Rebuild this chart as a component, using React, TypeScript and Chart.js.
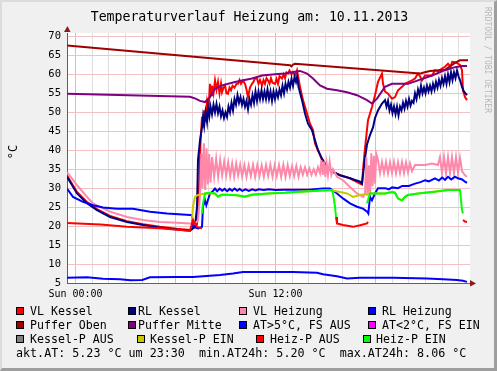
import React, { useEffect, useRef } from 'react';
import { Chart, registerables } from 'chart.js';

Chart.register(...registerables);

const FONT = '"DejaVu Sans Mono", "Liberation Mono", monospace';

// ---- axis / tick data ----
const X_RANGE = [-0.51, 23.67]; // hours relative to Sun 00:00
const Y_RANGE = [5, 70.9];
const Y_TICKS = [5, 10, 15, 20, 25, 30, 35, 40, 45, 50, 55, 60, 65, 70];
const X_TICKS = [0, 1, 2, 3, 4, 5, 6, 7, 8, 9, 10, 11, 12, 13, 14, 15, 16, 17, 18, 19, 20, 21, 22, 23];
const X_MAJOR = [0, 6, 12, 18];
const X_LABEL_HOURS = [0, 12];
const X_LABELS = ['Sun 00:00', 'Sun 12:00'];

// ---- series (time in hours, value in °C) ----
const vlKesselT = [-0.51, 0.09, 0.69, 1.29, 2.07, 3.09, 4.05, 5.07, 6.09, 6.87, 7.05, 7.29, 7.41, 7.5, 7.59, 7.65, 7.72, 7.8, 7.89, 7.97, 8.07, 8.13, 8.19, 8.28, 8.37, 8.46, 8.55, 8.64, 8.73, 8.79, 8.88, 8.97, 9.06, 9.15, 9.24, 9.33, 9.42, 9.54, 9.66, 9.75, 9.84, 9.93, 10.05, 10.17, 10.26, 10.35, 10.47, 10.59, 10.68, 10.77, 10.89, 10.98, 11.07, 11.19, 11.28, 11.37, 11.46, 11.55, 11.64, 11.73, 11.82, 11.97, 12.06, 12.15, 12.24, 12.39, 12.48, 12.57, 12.66, 12.75, 12.84, 12.96, 13.05, 13.17, 13.29, 13.47, 13.65, 13.89, 14.07, 14.25, 14.37, 14.55, 14.79, 15.09, 15.45, 15.87, 16.47, 17.07, 17.19, 17.25, 17.37, 17.55, 17.79, 17.97, 18.15, 18.39, 18.45, 18.57, 18.75, 18.99, 19.17, 19.35, 19.59, 19.77, 20.19, 20.37, 20.55, 20.67, 20.79, 20.97, 21.39, 21.57, 21.75, 21.99, 22.17, 22.35, 22.5, 22.6, 22.77, 22.95, 23.07, 23.19, 23.25, 23.37, 23.49];
const vlKesselV = [33.3, 29.0, 26.3, 24.5, 22.7, 21.3, 20.5, 19.8, 19.3, 19.0, 19.5, 20.5, 30.0, 42.0, 48.8, 46.0, 50.5, 47.5, 52.5, 50.0, 57.5, 54.5, 57.0, 55.0, 58.4, 56.0, 58.0, 55.0, 57.5, 55.3, 56.5, 57.1, 55.0, 54.9, 56.5, 55.8, 57.0, 56.5, 57.5, 57.5, 58.5, 57.5, 58.4, 57.5, 56.0, 54.0, 56.5, 57.5, 58.0, 59.0, 58.9, 57.5, 58.5, 57.1, 58.5, 57.5, 59.0, 58.4, 57.5, 59.0, 57.8, 57.5, 58.8, 57.5, 59.5, 58.9, 60.0, 59.0, 60.5, 60.2, 61.0, 60.0, 60.6, 59.7, 61.1, 56.7, 53.2, 49.7, 47.0, 45.3, 41.8, 40.0, 37.4, 35.6, 34.3, 33.4, 32.6, 31.2, 31.0, 34.7, 40.5, 47.9, 51.4, 54.5, 58.0, 60.2, 57.5, 55.5, 54.9, 53.6, 54.0, 55.8, 56.7, 57.5, 58.4, 58.9, 60.2, 59.5, 58.4, 59.7, 59.7, 61.1, 60.8, 61.5, 62.0, 62.8, 62.0, 63.3, 63.2, 62.8, 62.5, 61.1, 55.8, 54.0, 53.2];

const rlKesselT = [-0.51, 0.09, 0.69, 1.29, 2.07, 3.09, 4.05, 5.07, 6.09, 6.87, 7.05, 7.17, 7.29, 7.35, 7.47, 7.59, 7.65, 7.72, 7.8, 7.89, 7.95, 8.03, 8.1, 8.19, 8.28, 8.37, 8.46, 8.55, 8.64, 8.73, 8.82, 8.91, 9.0, 9.09, 9.18, 9.27, 9.36, 9.45, 9.54, 9.63, 9.72, 9.81, 9.9, 9.99, 10.08, 10.17, 10.26, 10.35, 10.44, 10.53, 10.62, 10.71, 10.8, 10.89, 10.98, 11.07, 11.16, 11.25, 11.34, 11.43, 11.52, 11.61, 11.7, 11.79, 11.88, 11.97, 12.06, 12.15, 12.24, 12.33, 12.42, 12.51, 12.6, 12.69, 12.78, 12.87, 12.96, 13.05, 13.14, 13.23, 13.3, 13.38, 13.59, 13.77, 13.95, 14.19, 14.37, 14.55, 14.79, 15.09, 15.45, 15.87, 16.47, 17.07, 17.19, 17.37, 17.49, 17.67, 17.85, 17.97, 18.15, 18.39, 18.57, 18.66, 18.75, 18.84, 18.93, 19.02, 19.11, 19.2, 19.29, 19.38, 19.47, 19.56, 19.65, 19.74, 19.83, 19.92, 20.01, 20.1, 20.19, 20.28, 20.37, 20.46, 20.55, 20.64, 20.73, 20.82, 20.91, 21.0, 21.09, 21.18, 21.27, 21.36, 21.45, 21.54, 21.63, 21.72, 21.81, 21.9, 21.99, 22.08, 22.17, 22.26, 22.35, 22.44, 22.53, 22.62, 22.71, 22.8, 22.89, 22.98, 23.07, 23.19, 23.3, 23.49];
const rlKesselV = [33.0, 28.6, 26.0, 24.2, 22.4, 21.1, 20.3, 19.6, 19.1, 18.8, 19.4, 19.8, 25.0, 37.4, 42.6, 46.1, 48.8, 46.5, 50.0, 47.5, 51.4, 49.0, 51.5, 49.5, 52.0, 50.0, 52.2, 49.8, 51.5, 49.0, 50.5, 48.5, 50.0, 48.8, 51.5, 50.0, 52.5, 50.5, 53.5, 52.0, 54.5, 52.5, 54.0, 52.0, 53.5, 51.5, 53.0, 50.8, 53.5, 52.0, 54.5, 52.5, 55.5, 53.0, 55.5, 53.5, 55.8, 53.5, 55.5, 53.5, 56.0, 53.5, 55.5, 53.0, 55.5, 53.5, 55.5, 54.0, 56.0, 54.5, 57.0, 55.0, 57.5, 56.0, 58.0, 56.5, 58.8, 57.0, 59.3, 58.0, 59.5, 56.7, 53.2, 49.7, 47.0, 45.3, 42.6, 40.0, 37.8, 35.6, 34.3, 33.4, 32.6, 31.7, 31.2, 38.0, 41.5, 44.0, 46.0, 48.5, 50.5, 52.3, 53.2, 51.5, 53.0, 50.5, 52.0, 49.8, 51.5, 49.5, 51.5, 49.2, 51.5, 50.5, 52.5, 51.0, 53.0, 51.5, 53.5, 51.8, 53.0, 52.5, 55.0, 53.5, 56.0, 54.5, 57.0, 55.0, 56.5, 55.0, 57.0, 55.5, 57.0, 55.5, 57.5, 56.0, 58.0, 56.5, 58.5, 57.0, 59.0, 57.5, 59.5, 57.5, 60.0, 58.0, 60.5, 58.5, 60.5, 59.0, 61.0, 59.5, 58.5, 56.7, 55.5, 54.5];

const vlHeizungT = [-0.51, 0.09, 0.69, 1.05, 2.07, 3.09, 4.05, 5.07, 6.09, 6.87, 7.17, 7.35, 7.47, 7.55, 7.62, 7.7, 7.78, 7.86, 7.94, 8.02, 8.1, 8.2, 8.32, 8.44, 8.56, 8.68, 8.8, 8.92, 9.04, 9.16, 9.28, 9.4, 9.52, 9.64, 9.76, 9.88, 10.0, 10.13, 10.26, 10.39, 10.52, 10.65, 10.78, 10.91, 11.04, 11.17, 11.3, 11.43, 11.56, 11.69, 11.82, 11.95, 12.08, 12.21, 12.34, 12.47, 12.6, 12.73, 12.86, 12.99, 13.12, 13.25, 13.38, 13.51, 13.64, 13.77, 13.9, 14.03, 14.16, 14.29, 14.42, 14.55, 14.67, 14.75, 14.83, 14.91, 14.99, 15.07, 15.15, 15.25, 15.35, 15.45, 15.69, 16.05, 16.47, 16.89, 17.25, 17.37, 17.45, 17.52, 17.6, 17.67, 17.75, 17.82, 17.9, 17.97, 18.05, 18.15, 18.27, 18.39, 18.51, 18.63, 18.75, 18.87, 18.99, 19.11, 19.23, 19.35, 19.47, 19.59, 19.71, 19.83, 19.95, 20.07, 20.19, 20.37, 20.97, 21.39, 21.75, 21.87, 21.99, 22.11, 22.23, 22.35, 22.47, 22.59, 22.71, 22.83, 22.95, 23.07, 23.19, 23.37, 23.49];
const vlHeizungV = [34.2, 30.8, 27.7, 26.0, 23.8, 22.4, 21.6, 21.1, 20.9, 20.7, 20.7, 21.5, 28.0, 39.2, 30.0, 41.8, 29.5, 40.5, 31.0, 39.0, 31.5, 38.2, 33.0, 37.8, 33.0, 37.4, 33.4, 37.0, 33.4, 36.8, 33.2, 36.5, 33.0, 36.5, 33.4, 36.2, 33.0, 36.1, 33.0, 36.0, 33.2, 36.2, 33.0, 36.1, 33.2, 36.0, 33.0, 36.1, 33.2, 36.2, 33.0, 36.0, 33.2, 36.1, 33.0, 36.2, 33.0, 36.1, 33.2, 35.8, 33.2, 35.8, 33.0, 35.5, 33.5, 35.5, 33.5, 35.2, 33.5, 35.0, 33.5, 35.5, 34.0, 37.4, 33.5, 37.0, 33.0, 36.5, 33.5, 37.0, 33.5, 35.0, 33.0, 32.1, 30.3, 28.6, 27.7, 28.5, 38.2, 28.0, 36.0, 27.5, 39.2, 30.5, 38.5, 31.2, 39.0, 37.4, 34.0, 36.9, 34.0, 36.9, 33.9, 36.8, 34.0, 36.9, 33.9, 36.8, 34.0, 36.9, 34.0, 36.8, 34.2, 36.5, 34.5, 36.1, 36.1, 36.5, 36.1, 38.2, 34.0, 38.2, 33.9, 38.2, 34.0, 38.2, 33.9, 38.2, 34.0, 38.0, 34.5, 33.4, 33.0];

const rlHeizungT = [-0.51, -0.15, 0.45, 1.05, 1.65, 2.49, 3.45, 4.47, 5.49, 6.87, 6.99, 7.05, 7.35, 7.59, 7.65, 7.77, 7.85, 8.07, 8.19, 8.37, 8.5, 8.65, 8.8, 8.95, 9.1, 9.25, 9.4, 9.55, 9.7, 9.85, 10.0, 10.2, 10.4, 10.6, 10.8, 11.0, 11.3, 11.6, 12.0, 12.5, 13.0, 13.5, 14.0, 14.5, 14.85, 15.27, 15.69, 16.05, 16.47, 16.89, 17.25, 17.5, 17.57, 17.67, 17.79, 17.97, 18.15, 18.57, 18.8, 19.0, 19.35, 19.6, 20.0, 20.37, 20.7, 20.97, 21.2, 21.57, 21.8, 22.0, 22.17, 22.35, 22.55, 22.77, 22.95, 23.2, 23.37, 23.49];
const rlHeizungV = [29.9, 27.7, 26.4, 25.5, 24.9, 24.6, 24.6, 23.8, 23.3, 22.9, 22.9, 19.8, 19.4, 19.8, 25.1, 26.8, 25.5, 28.6, 29.0, 29.9, 29.2, 29.9, 29.3, 29.8, 29.2, 29.8, 29.3, 29.9, 29.3, 29.8, 29.3, 29.7, 29.3, 29.7, 29.4, 29.7, 29.5, 29.7, 29.5, 29.6, 29.6, 29.6, 29.6, 29.8, 29.9, 29.9, 28.6, 27.3, 26.0, 25.1, 24.6, 23.8, 23.3, 27.7, 26.8, 28.6, 30.0, 30.0, 29.7, 30.2, 30.0, 30.6, 30.6, 31.2, 31.6, 32.1, 31.8, 32.6, 32.0, 32.8, 32.2, 33.0, 32.3, 33.0, 32.6, 32.3, 31.7, 31.4];

const pufferObenT = [-0.51, 12.87, 12.95, 13.05, 13.17, 20.67, 20.9, 21.27, 22.17, 22.77, 23.07, 23.55];
const pufferObenV = [67.6, 62.4, 62.1, 62.6, 62.8, 60.2, 60.5, 60.9, 61.2, 63.0, 63.7, 63.7];

const pufferMitteT = [-0.51, 6.87, 7.2, 7.47, 7.77, 8.07, 8.37, 8.79, 9.57, 9.99, 10.59, 11.19, 11.97, 12.57, 12.87, 13.47, 13.89, 14.25, 14.67, 15.09, 15.69, 16.29, 16.89, 17.49, 17.79, 18.09, 18.57, 18.99, 19.35, 19.95, 20.55, 21.39, 22.17, 22.77, 23.19, 23.49];
const pufferMitteV = [54.9, 54.1, 53.6, 53.0, 52.7, 54.0, 56.2, 57.1, 58.0, 58.4, 58.9, 59.7, 60.0, 60.2, 60.5, 60.9, 60.2, 58.9, 57.1, 56.2, 55.8, 55.3, 54.5, 53.2, 52.3, 53.6, 56.7, 57.5, 57.5, 57.5, 58.4, 59.7, 61.1, 61.9, 62.2, 62.2];

const atWarmT = [-0.51, 0.69, 1.65, 2.67, 3.3, 4.0, 4.47, 6.09, 7.05, 8.67, 9.45, 10.05, 11.07, 12.09, 13.05, 14.49, 14.85, 15.69, 16.29, 17.07, 19.05, 21.09, 22.05, 22.89, 23.25, 23.49];
const atWarmV = [6.4, 6.5, 6.1, 6.0, 5.7, 5.8, 6.5, 6.6, 6.6, 7.1, 7.5, 7.9, 7.9, 7.9, 7.9, 7.7, 7.3, 6.8, 6.2, 6.4, 6.4, 6.2, 6.0, 5.8, 5.6, 5.3];

const atColdT: number[] = [];
const atColdV: number[] = [];

const kesselPAusT: number[] = [];
const kesselPAusV: number[] = [];

const kesselPEinT = [6.99, 7.05, 7.17, 7.35, 7.77, 8.37, 8.55, 8.8, 9.57, 10.17, 10.6, 11.55, 12.57, 13.17, 14.0, 15.27, 15.87, 16.29, 16.65, 17.07, 17.67, 18.57, 18.99, 19.17, 19.35, 19.59, 19.77, 19.95, 20.55, 21.39, 22.35, 23.07];
const kesselPEinV = [21.6, 25.1, 27.7, 28.2, 28.6, 28.6, 27.7, 28.2, 28.2, 27.7, 28.2, 28.6, 28.8, 29.0, 29.2, 29.5, 29.0, 28.6, 27.7, 28.2, 28.6, 28.6, 29.0, 28.8, 27.3, 26.8, 27.7, 28.2, 28.6, 29.0, 29.5, 29.5];

const heizPAusT = [-0.51, 1.5, 3.09, 5.07, 6.45, 6.87, 7.05, 7.29, 7.59, 7.62, 15.63, 15.69, 16.05, 16.65, 17.07, 17.49, 17.55, 17.6, 23.25, 23.37, 23.49];
const heizPAusV = [20.8, 20.4, 19.8, 19.4, 18.9, 18.8, 21.6, 19.8, 19.4, null, 22.4, 20.7, 20.3, 19.8, 20.2, 20.7, 21.1, null, 21.6, 21.2, 21.1];

const heizPEinT = [7.59, 7.65, 7.77, 8.07, 8.37, 8.55, 8.8, 9.57, 10.17, 10.6, 11.55, 12.57, 13.17, 14.0, 15.39, 15.45, 15.57, 15.63, 16.5, 17.49, 17.67, 18.57, 18.99, 19.17, 19.35, 19.59, 19.77, 19.95, 20.55, 21.39, 22.35, 23.07, 23.19, 23.25];
const heizPEinV = [23.3, 26.0, 28.6, 28.8, 28.6, 27.8, 28.3, 28.2, 27.8, 28.3, 28.6, 28.8, 29.0, 29.2, 29.5, 28.6, 25.1, 22.4, null, 26.0, 28.6, 28.6, 29.0, 28.8, 27.3, 26.8, 27.7, 28.2, 28.6, 29.0, 29.5, 29.5, 24.2, 23.3];

// legend order (rrdtool draw order: later on top)
const SERIES_NAMES = ['VL Kessel', 'RL Kessel', 'VL Heizung', 'RL Heizung', 'Puffer Oben', 'Puffer Mitte', 'AT>5°C, FS AUS', 'AT<2°C, FS EIN', 'Kessel-P AUS', 'Kessel-P EIN', 'Heiz-P AUS', 'Heiz-P EIN'];
const SERIES_COLORS = ['#ff0000', '#000080', '#ff88aa', '#0000ff', '#a00000', '#800080', '#0000ff', '#ff00ff', '#808080', '#c8c800', '#ff0000', '#00ff00'];
const SERIES_T = [vlKesselT, rlKesselT, vlHeizungT, rlHeizungT, pufferObenT, pufferMitteT, atWarmT, atColdT, kesselPAusT, kesselPEinT, heizPAusT, heizPEinT];
const SERIES_V: (number | null)[][] = [vlKesselV, rlKesselV, vlHeizungV, rlHeizungV, pufferObenV, pufferMitteV, atWarmV, atColdV, kesselPAusV, kesselPEinV, heizPAusV, heizPEinV];

// legend layout (box left, text left, row)
const LEGEND_POS = [
  [16, 30, 0], [128, 138, 0], [239, 253, 0], [368, 382, 0],
  [16, 30, 1], [128, 138, 1], [239, 253, 1], [368, 382, 1],
  [16, 30, 2], [137, 150, 2], [256, 270, 2], [363, 376, 2],
];
const ROW_Y = [311, 325, 339];

const FOOTER = 'akt.AT: 5.23 °C um 23:30  min.AT24h: 5.20 °C  max.AT24h: 8.06 °C';
const TITLE = 'Temperaturverlauf Heizung am: 10.11.2013';

const arrowPlugin = {
  id: 'rrdArrows',
  afterDraw(chart: any) {
    const { ctx, chartArea } = chart;
    ctx.save();
    ctx.fillStyle = '#8c1a1a';
    // y arrow
    ctx.beginPath();
    ctx.moveTo(chartArea.left - 3, chartArea.top - 1);
    ctx.lineTo(chartArea.left + 3.5, chartArea.top - 1);
    ctx.lineTo(chartArea.left + 0.5, chartArea.top - 7);
    ctx.closePath();
    ctx.fill();
    // x arrow
    ctx.beginPath();
    ctx.moveTo(chartArea.right, chartArea.bottom - 3);
    ctx.lineTo(chartArea.right, chartArea.bottom + 3.5);
    ctx.lineTo(chartArea.right + 6, chartArea.bottom + 0.5);
    ctx.closePath();
    ctx.fill();
    ctx.restore();
  },
};

export default function App() {
  const canvasRef = useRef<HTMLCanvasElement | null>(null);

  useEffect(() => {
    if (!canvasRef.current) return;
    const datasets = SERIES_NAMES.map((name, i) => ({
      label: name,
      data: SERIES_T[i].map((t, k) => ({ x: t, y: SERIES_V[i][k] })),
      borderColor: SERIES_COLORS[i],
      backgroundColor: SERIES_COLORS[i],
      borderWidth: 2,
      pointRadius: 0,
      tension: 0,
      spanGaps: false,
      fill: false,
      order: SERIES_NAMES.length - i,
    }));
    const chart = new Chart(canvasRef.current, {
      type: 'line',
      data: { datasets },
      plugins: [arrowPlugin],
      options: {
        responsive: false,
        animation: false,
        layout: { padding: { top: 33, right: 27, left: 0, bottom: 0 } },
        plugins: { legend: { display: false }, tooltip: { enabled: false }, title: { display: false } },
        scales: {
          x: {
            type: 'linear',
            min: X_RANGE[0],
            max: X_RANGE[1],
            afterFit: (s: any) => { s.height = 88; },
            afterBuildTicks: (s: any) => { s.ticks = X_TICKS.map((v) => ({ value: v })); },
            ticks: {
              autoSkip: false,
              maxRotation: 0,
              padding: 5,
              color: '#000',
              font: { family: FONT, size: 10 },
              callback: (v: any) => {
                const idx = X_LABEL_HOURS.indexOf(Number(v));
                return idx >= 0 ? X_LABELS[idx] : '';
              },
            },
            grid: {
              drawTicks: false,
              lineWidth: 1,
              color: (c: any) => (c.tick && X_MAJOR.includes(c.tick.value) ? '#f0b4b4' : '#dedede'),
            },
            border: { display: true, color: '#606060', width: 1 },
          },
          y: {
            type: 'linear',
            min: Y_RANGE[0],
            max: Y_RANGE[1],
            afterFit: (s: any) => { s.width = 67; },
            afterBuildTicks: (s: any) => { s.ticks = Y_TICKS.map((v) => ({ value: v })); },
            ticks: {
              padding: 6,
              color: '#000',
              font: { family: FONT, size: 10.5 },
            },
            grid: { drawTicks: false, lineWidth: 1, color: '#f2c2c2' },
            border: { display: true, color: '#606060', width: 1 },
          },
        },
      },
    });
    return () => chart.destroy();
  }, []);

  return (
    <div
      style={{
        position: 'fixed',
        left: 0,
        top: 0,
        width: 497,
        height: 371,
        boxSizing: 'border-box',
        background: '#f0f0f0',
        borderTop: '2px solid #dcdcdc',
        borderLeft: '2px solid #dcdcdc',
        borderRight: '3px solid #9e9e9e',
        borderBottom: '3px solid #9e9e9e',
        overflow: 'hidden',
        fontFamily: FONT,
      }}
    >
      <div style={{ position: 'absolute', left: -2, top: -2, width: 497, height: 371 }}>
        <div style={{ position: 'absolute', left: 67, top: 33, width: 403, height: 250, background: '#fff' }} />
        <canvas ref={canvasRef} width={497} height={371} style={{ position: 'absolute', left: 0, top: 0, width: 497, height: 371 }} />
        <div style={{ position: 'absolute', left: 0, top: 9, width: 499, textAlign: 'center', fontSize: 13.2, lineHeight: '16px', color: '#000', whiteSpace: 'pre' }}>
          {TITLE}
        </div>
        <div style={{ position: 'absolute', left: 13, top: 152, transform: 'translate(-50%, -50%) rotate(-90deg)', fontSize: 12, lineHeight: '14px', color: '#000', whiteSpace: 'pre' }}>
          °C
        </div>
        <div style={{ position: 'absolute', left: 483, top: 7, writingMode: 'vertical-rl', fontSize: 8, lineHeight: '9px', color: '#b8b8b8', whiteSpace: 'pre', letterSpacing: 0 }}>
          RRDTOOL / TOBI OETIKER
        </div>
        {SERIES_NAMES.map((name, i) => {
          const [bx, tx, row] = LEGEND_POS[i];
          const cy = ROW_Y[row];
          return (
            <React.Fragment key={name + i}>
              <div style={{ position: 'absolute', left: bx, top: cy - 4, width: 8, height: 8, boxSizing: 'border-box', border: '1px solid #000', background: SERIES_COLORS[i] }} />
              <div style={{ position: 'absolute', left: tx, top: cy - 7, fontSize: 11.6, lineHeight: '14px', color: '#000', whiteSpace: 'pre' }}>{name}</div>
            </React.Fragment>
          );
        })}
        <div style={{ position: 'absolute', left: 16, top: 346, fontSize: 11.7, lineHeight: '14px', color: '#000', whiteSpace: 'pre' }}>
          {FOOTER}
        </div>
      </div>
    </div>
  );
}
